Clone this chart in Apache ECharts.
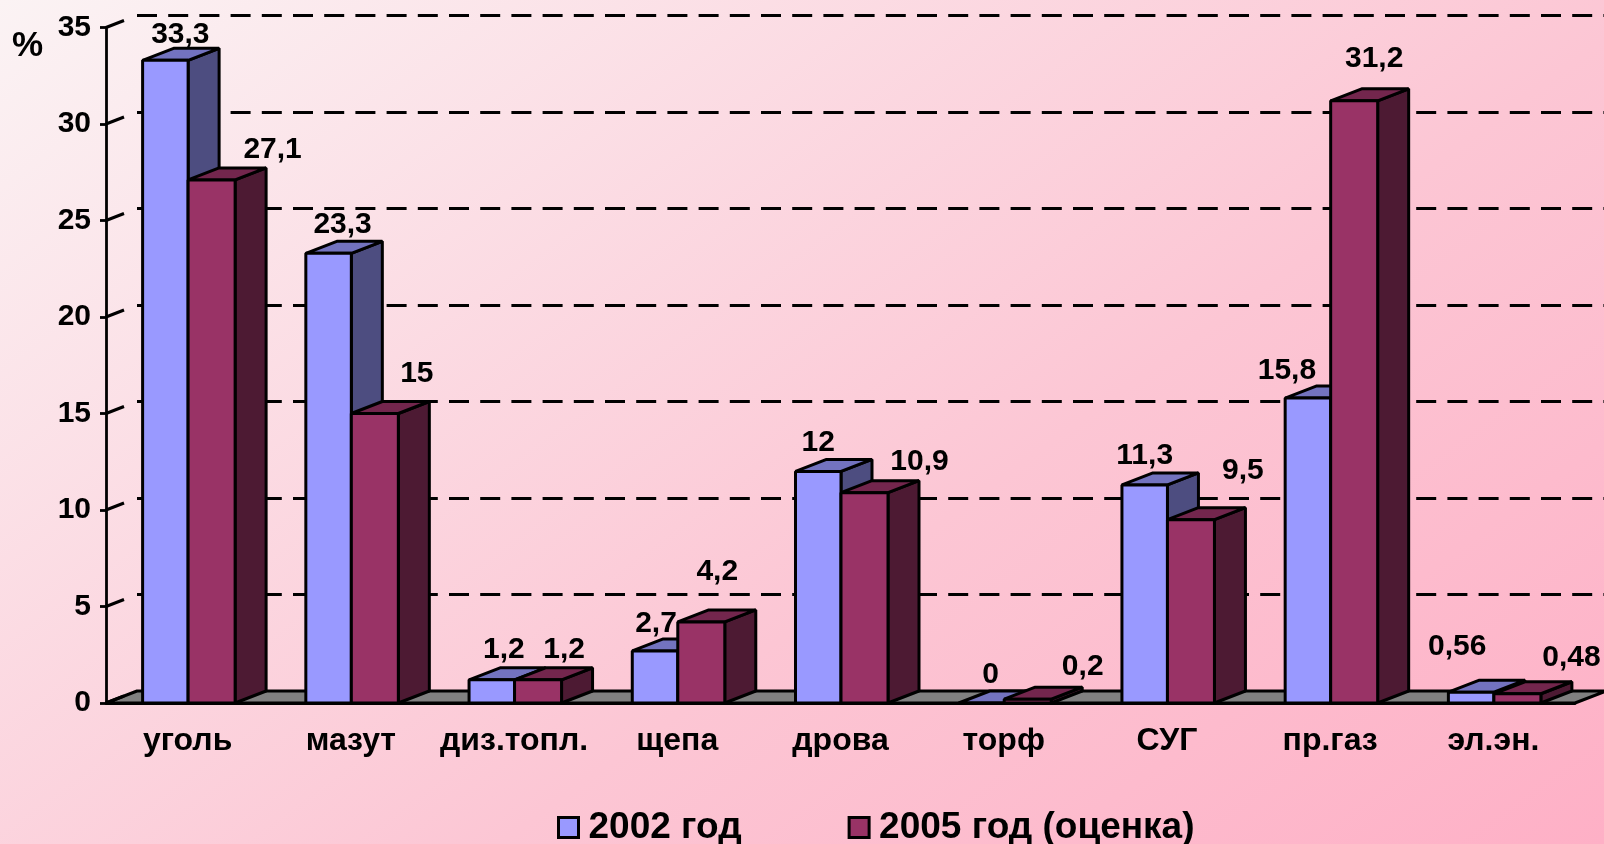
<!DOCTYPE html>
<html><head><meta charset="utf-8">
<style>html,body{margin:0;padding:0;width:1604px;height:844px;overflow:hidden}#c{width:1604px;height:844px}</style>
<script src="https://cdn.jsdelivr.net/npm/echarts@6/dist/echarts.min.js"></script>
</head><body><div id="c"></div>
<script>
const categories = ['уголь','мазут','диз.топл.','щепа','дрова','торф','СУГ','пр.газ','эл.эн.'];
const values2002 = [33.3,23.3,1.2,2.7,12,0,11.3,15.8,0.56];
const values2005 = [27.1,15,1.2,4.2,10.9,0.2,9.5,31.2,0.48];
const yTicks = [0,5,10,15,20,25,30,35];
// hand-placed label nudges from the source picture, [dx, dy] from bar top centre
const nudges2002 = [[15,-26],[14,-29],[12,-30],[1,-27],[0,-29],[9,-28],[0,-29],[-21,-27],[-14,-45]];
const nudges2005 = [[61,-30],[42,-40],[26,-30],[16,-50],[55,-31],[55,-32],[52,-49],[20,-42],[54,-36]];

const FONT = '"Liberation Sans", Arial, sans-serif';
const DX = 31, DY = 12, SW = 3;
const stroke = {stroke:'#000', lineWidth:SW, lineJoin:'bevel'};
const fmt = v => String(v).replace('.', ',');

function barSeries(name, vals, nudges, front, top, side, sign, BAR, z) {
  return {
    type:'custom', name, coordinateSystem:'cartesian2d', xAxisIndex:0, yAxisIndex:0, z,
    itemStyle:{color:front}, clip:false,
    data: vals.map((v,i)=>[i,v]),
    encode:{x:0,y:1},
    renderItem(params, api){
      const i = api.value(0), v = api.value(1);
      const p = api.coord([i,v]), y0 = api.coord([i,0])[1];
      const x = sign<0 ? p[0]-BAR+0.5 : p[0]+0.5, y = p[1], r = x+BAR;
      const n = nudges[params.dataIndex];
      return {type:'group', children:[
        {type:'polygon', shape:{points:[[r,y],[r+DX,y-DY],[r+DX,y0-DY],[r,y0]]}, style:{fill:side,...stroke}},
        {type:'polygon', shape:{points:[[x,y],[x+DX,y-DY],[r+DX,y-DY],[r,y]]}, style:{fill:top,...stroke}},
        {type:'rect', shape:{x,y,width:BAR,height:y0-y}, style:{fill:front,...stroke}},
        {type:'text', z2:100, style:{x:x+BAR/2+n[0], y:y+n[1], text:fmt(v), align:'center', verticalAlign:'middle',
          fill:'#000', font:'bold 30px '+FONT}}
      ]};
    }
  };
}

const option = {
  animation:false,
  backgroundColor:{type:'linear',x:0,y:0,x2:0.596,y2:1.558,colorStops:[
    {offset:0,color:'#fbf3f4'},{offset:0.6,color:'#fcc6d4'},{offset:1,color:'#feb0c6'}]},
  title:{text:'%', left:7, top:24, textStyle:{fontFamily:FONT,fontWeight:'bold',fontSize:35,color:'#000'}},
  legend:{
    left:552, top:804, itemWidth:20, itemHeight:20, itemGap:106, icon:'rect',
    data:[
      {name:'2002 год', itemStyle:{color:'#9999FF',borderColor:'#000',borderWidth:3}},
      {name:'2005 год (оценка)', itemStyle:{color:'#993366',borderColor:'#000',borderWidth:3}}
    ],
    textStyle:{fontFamily:FONT,fontWeight:'bold',fontSize:37,color:'#000',padding:[0,0,0,5]}
  },
  grid:[
    {left:106, top:27.5, width:1469, height:675.5},
    {left:137, top:15.5, width:1469, height:675.5}
  ],
  xAxis:[
    {type:'category', gridIndex:0, data:categories,
     axisLine:{lineStyle:{color:'#000',width:2.8}},
     axisTick:{length:7,lineStyle:{color:'#000',width:2.8}},
     axisLabel:{color:'#000',fontFamily:FONT,fontWeight:'bold',fontSize:32,margin:22,interval:0}},
    {type:'category', gridIndex:1, data:categories, show:false}
  ],
  yAxis:[
    {type:'value', gridIndex:0, min:0, max:35, interval:5,
     axisLine:{show:true,lineStyle:{color:'#000',width:2.8}},
     axisTick:{show:true,length:6,lineStyle:{color:'#000',width:2.8}},
     axisLabel:{color:'#000',fontFamily:FONT,fontWeight:'bold',fontSize:30,margin:15},
     splitLine:{show:false}},
    {type:'value', gridIndex:1, min:0, max:35, interval:5,
     axisLine:{show:false},axisTick:{show:false},axisLabel:{show:false},
     splitLine:{show:true,lineStyle:{color:'#000',width:3,type:[20,11.2]}}}
  ],
  series:[
    {type:'custom', name:'floor', coordinateSystem:'cartesian2d', xAxisIndex:0, yAxisIndex:0, z:1, clip:false,
     data:[[0,0]], encode:{x:0,y:1}, silent:true,
     renderItem(params, api){
       const c = params.coordSys, y0 = api.coord([0,0])[1], l = c.x, r = c.x+c.width;
       return {type:'polygon', shape:{points:[[l,y0],[l+DX,y0-DY],[r+DX,y0-DY],[r,y0]]},
               style:{fill:'#808080',...stroke}};
     }},
    {type:'custom', name:'wallTicks', coordinateSystem:'cartesian2d', xAxisIndex:0, yAxisIndex:0, z:1, clip:false,
     data:yTicks.map(t=>[0,t]), encode:{x:0,y:1}, silent:true,
     renderItem(params, api){
       const c = params.coordSys, y = api.coord([0,api.value(1)])[1];
       return {type:'line', shape:{x1:c.x,y1:y,x2:c.x+18,y2:y-7}, style:{stroke:'#000',lineWidth:SW}};
     }},
    barSeries('2002 год', values2002, nudges2002, '#9999FF', '#7373BF', '#4D4D80', -1, 45.5, 2),
    barSeries('2005 год (оценка)', values2005, nudges2005, '#993366', '#73264D', '#4D1A33', 1, 47, 3)
  ]
};
echarts.init(document.getElementById('c')).setOption(option);
</script></body></html>
